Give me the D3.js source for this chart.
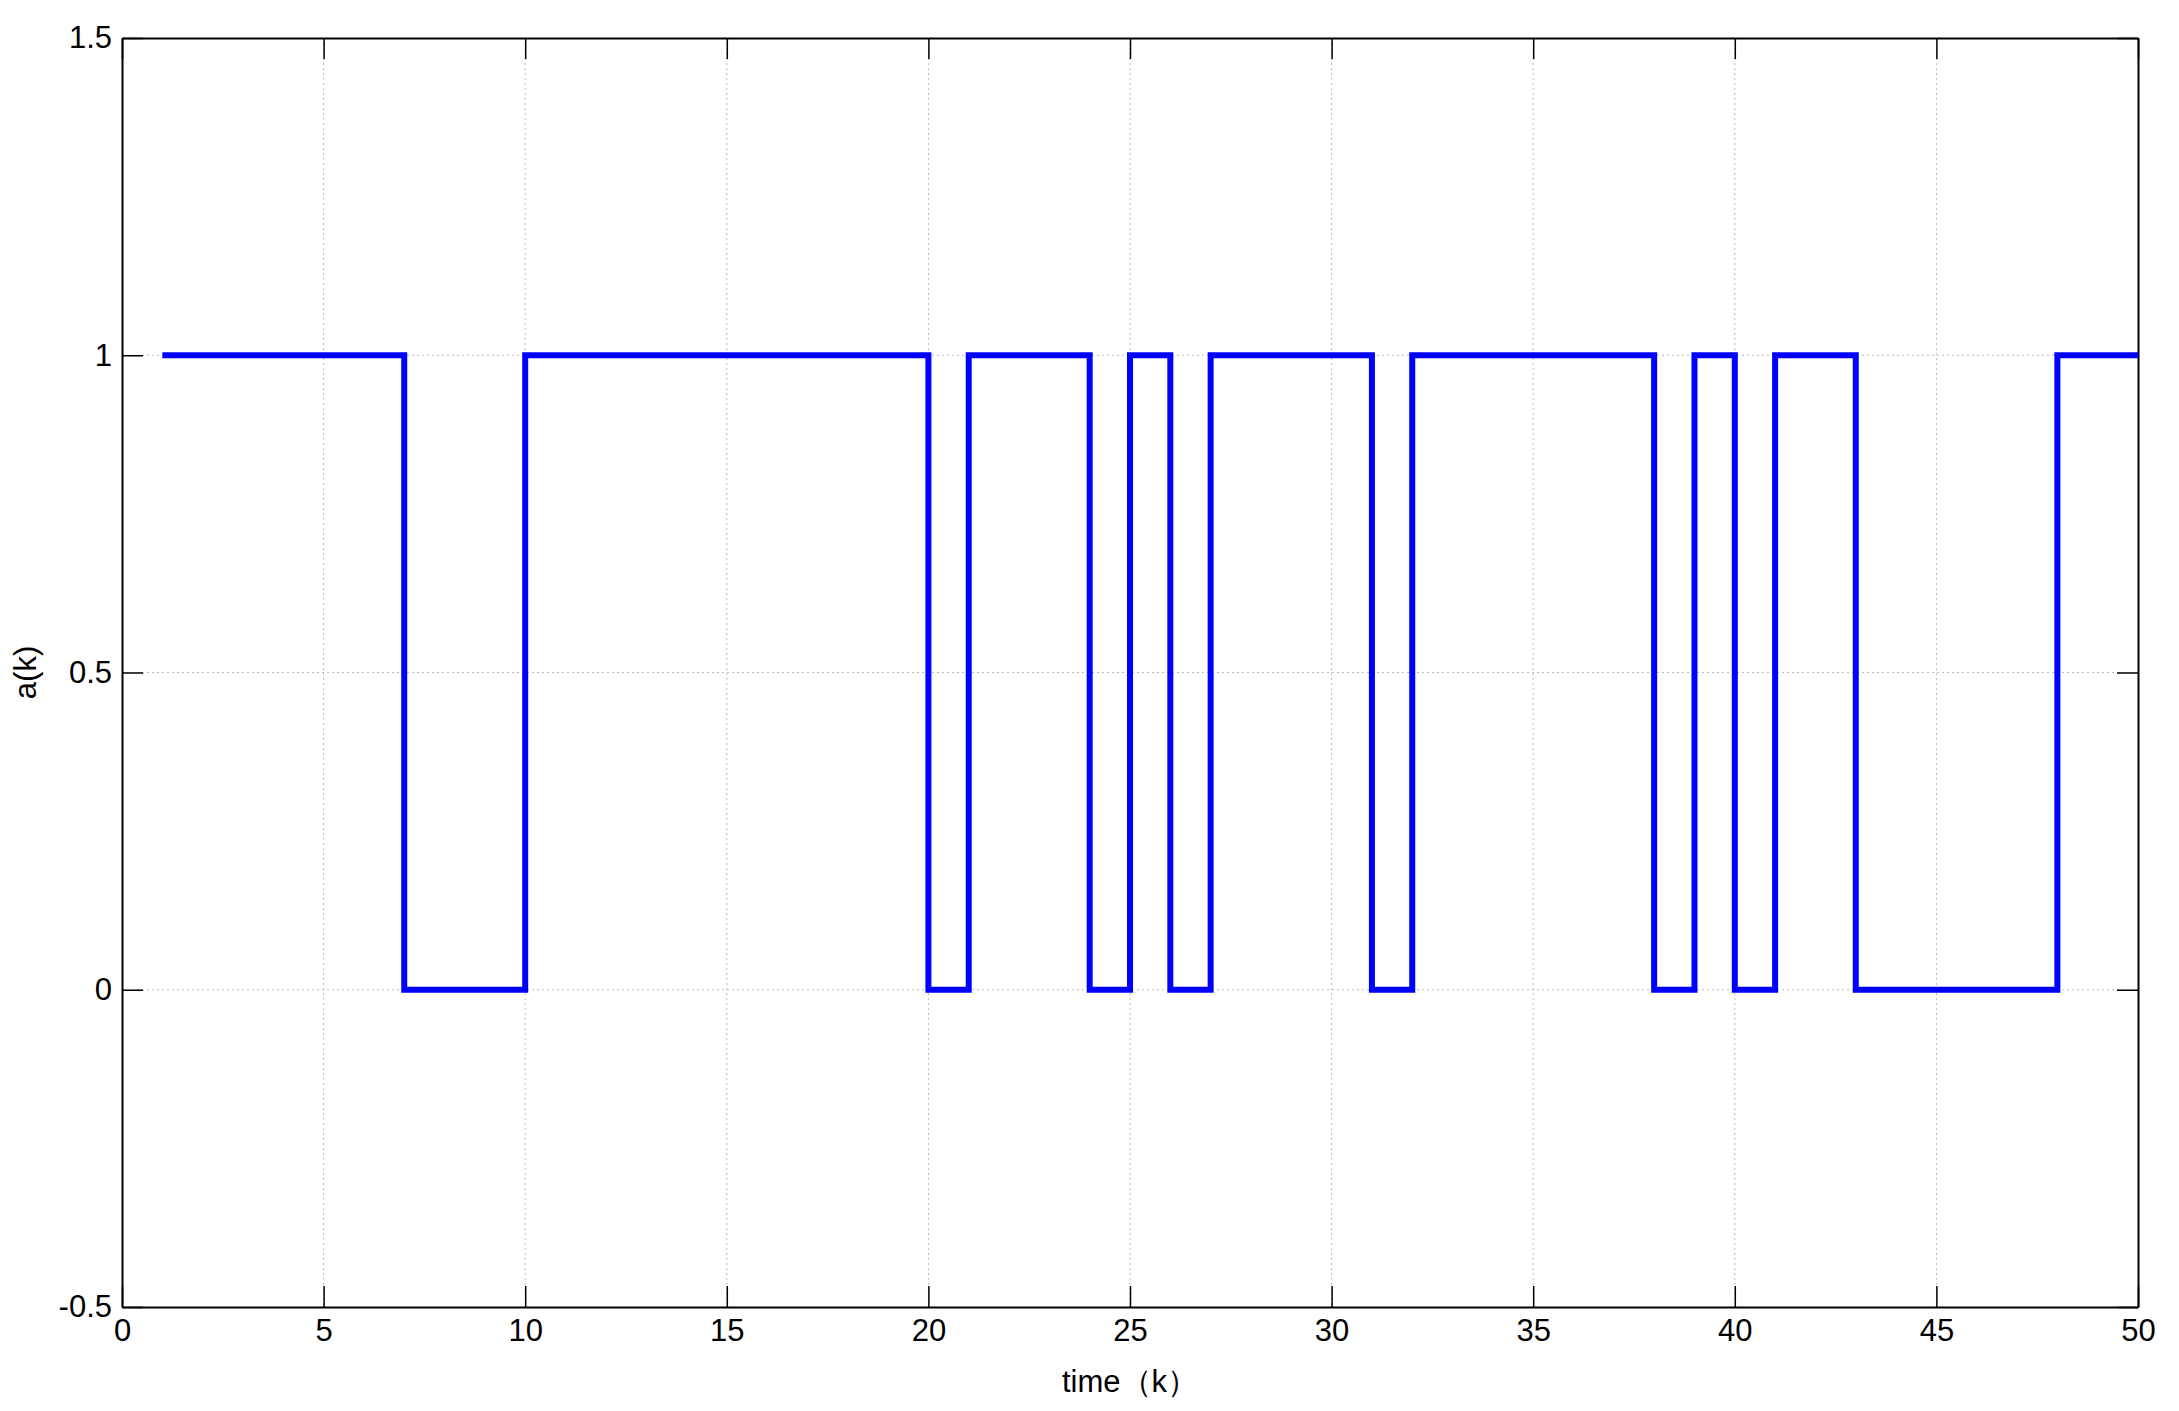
<!DOCTYPE html>
<html><head><meta charset="utf-8">
<script src="https://cdn.jsdelivr.net/npm/d3@7"></script>
<style>body{margin:0;background:#fff}svg{font-family:"Liberation Sans",Arial,sans-serif}</style>
</head><body><svg width="2179" height="1411"></svg>
<script>
const ks = d3.range(1, 51)
const values = [1,1,1,1,1,1,0,0,0,1, 1,1,1,1,1,1,1,1,1,0, 1,1,1,0,1,0,1,1,1,1, 0,1,1,1,1,1,1,0,1,0, 1,1,0,0,0,0,0,1,1,1]
const xTicks = d3.range(0, 51, 5)
const yTicks = [-0.5, 0, 0.5, 1, 1.5]

const m = {left: 122, right: 2138, top: 38, bottom: 1307}
const svg = d3.select('svg')
const x = d3.scaleLinear().domain([0, 50]).range([m.left, m.right])
const y = d3.scaleLinear().domain([-0.5, 1.5]).range([m.bottom, m.top])

// grid
svg.append('g').selectAll('line').data(xTicks.slice(1, -1)).join('line')
  .attr('x1', d => x(d)).attr('x2', d => x(d)).attr('y1', m.top).attr('y2', m.bottom)
  .attr('stroke', '#bbb').attr('stroke-dasharray', '2,3')
svg.append('g').selectAll('line').data(yTicks.slice(1, -1)).join('line')
  .attr('y1', d => y(d)).attr('y2', d => y(d)).attr('x1', m.left).attr('x2', m.right)
  .attr('stroke', '#bbb').attr('stroke-dasharray', '2,3')

const tick = 21
const ax = svg.append('g').attr('transform', `translate(0,${m.bottom})`)
  .call(d3.axisBottom(x).tickValues(xTicks).tickSizeInner(-tick).tickSizeOuter(0).tickPadding(12))
const ay = svg.append('g').attr('transform', `translate(${m.left},0)`)
  .call(d3.axisLeft(y).tickValues(yTicks).tickFormat(d => d).tickSizeInner(-tick).tickSizeOuter(0).tickPadding(10))
const at = svg.append('g').attr('transform', `translate(0,${m.top})`)
  .call(d3.axisTop(x).tickValues(xTicks).tickSizeInner(-tick).tickSizeOuter(0).tickFormat(''))
const ar = svg.append('g').attr('transform', `translate(${m.right},0)`)
  .call(d3.axisRight(y).tickValues(yTicks).tickSizeInner(-tick).tickSizeOuter(0).tickFormat(''))
for (const a of [ax, ay, at, ar]) {
  a.selectAll('path').attr('stroke', '#000').attr('stroke-width', 2)
  a.selectAll('line').attr('stroke', '#000').attr('stroke-width', 1.5)
  a.selectAll('text').attr('font-size', 31).attr('fill', '#000').attr('font-family', '"Liberation Sans",Arial,sans-serif')
}

svg.append('path').datum(ks.map((k, i) => [k, values[i]]))
  .attr('d', d3.line().x(d => x(d[0])).y(d => y(d[1])).curve(d3.curveStepAfter))
  .attr('fill', 'none').attr('stroke', '#0000ff').attr('stroke-width', 6)

svg.append('text').attr('x', (m.left + m.right) / 2).attr('y', 1392).attr('text-anchor', 'middle')
  .attr('font-size', 31).text('time（k）')
svg.append('text').attr('transform', `translate(36,${(m.top + m.bottom) / 2}) rotate(-90)`)
  .attr('text-anchor', 'middle').attr('font-size', 31).text('a(k)')
</script></body></html>
